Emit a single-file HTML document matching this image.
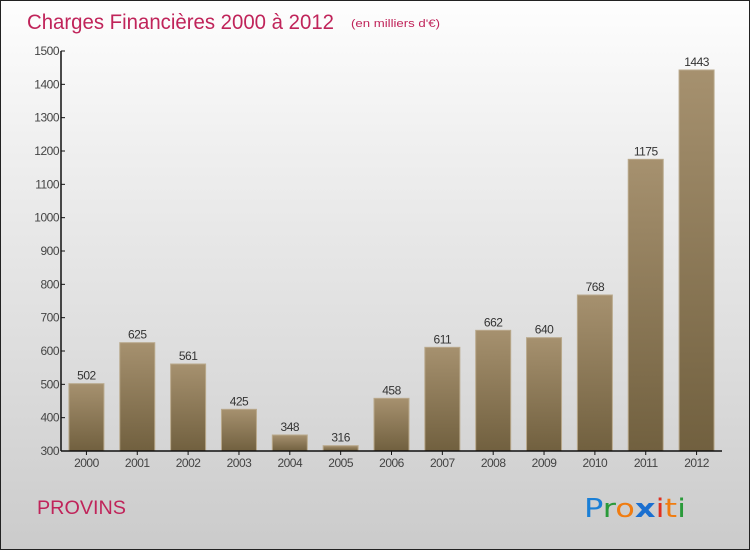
<!DOCTYPE html>
<html><head><meta charset="utf-8"><style>
body{margin:0;width:750px;height:550px;overflow:hidden}
#c{position:relative;width:748px;height:548px;border:1px solid #222;background:linear-gradient(#fefefe,#f0f0f0 25%,#d8d8d8 75%,#cbcbcb);font-family:"Liberation Sans","DejaVu Sans",sans-serif}
</style></head><body>
<div id="c">
<svg width="748" height="548">
<defs><linearGradient id="g" x1="0" y1="0" x2="0" y2="1"><stop offset="0" stop-color="#a6916f"/><stop offset="1" stop-color="#71603f"/></linearGradient></defs>
<text x="26" y="28" font-size="21" fill="#c0245a" textLength="307" lengthAdjust="spacingAndGlyphs">Charges Financières 2000 à 2012</text>
<text x="350" y="26" font-size="11" fill="#c0245a" textLength="89" lengthAdjust="spacingAndGlyphs">(en milliers d'€)</text>
<g id="plot"></g>
<text x="36" y="513" font-size="19" fill="#c0245a" textLength="89" lengthAdjust="spacingAndGlyphs">PROVINS</text>
<g font-size="26" font-family="DejaVu Sans,sans-serif">
<text x="583" y="516" textLength="102" lengthAdjust="spacingAndGlyphs"><tspan fill="#1a7fd6">P</tspan><tspan fill="#2a9a3a">r</tspan><tspan fill="#f07c10">o</tspan><tspan fill="#1a6fd0" font-weight="bold">x</tspan><tspan fill="#e03020">i</tspan><tspan fill="#f07c10">t</tspan><tspan fill="#2a9a3a">i</tspan></text></g>
</svg></div>
<script>
const years=["2000","2001","2002","2003","2004","2005","2006","2007","2008","2009","2010","2011","2012"];
const values=[502,625,561,425,348,316,458,611,662,640,768,1175,1443];
const ticks=[300,400,500,600,700,800,900,1000,1100,1200,1300,1400,1500];
const NS="http://www.w3.org/2000/svg",g=document.getElementById('plot');
const x0=60,x1=721,yMin=300,yMax=1500,yTop=50,yBot=450;
const y=v=>yBot-(v-yMin)/(yMax-yMin)*(yBot-yTop);
const bw=(x1-x0)/years.length;
function mk(t,a,txt){const e=document.createElementNS(NS,t);for(const k in a)e.setAttribute(k,a[k]);if(txt!=null)e.textContent=txt;g.appendChild(e);return e;}
ticks.forEach(t=>{
let l=mk('line',{x1:x0,x2:x0+4,y1:y(t),y2:y(t),stroke:'#111'});


let tx=mk('text',{x:x0-2,y:y(t)+4,'font-size':12,'text-anchor':'end',fill:'#444','letter-spacing':'-0.5'},t);


});
years.forEach((yr,i)=>{
const cx=x0+bw*(i+0.5),v=values[i],w=35;
let r=mk('rect',{x:cx-w/2,y:y(v),width:w,height:yBot-y(v),fill:'url(#g)',stroke:'#b9a98c','stroke-width':1});


let lb=mk('text',{x:cx,y:y(v)-4,'font-size':12,'text-anchor':'middle',fill:'#333','letter-spacing':'-0.5'},v);


let tk=mk('line',{x1:cx,x2:cx,y1:yBot,y2:yBot+4,stroke:'#111'});


let xl=mk('text',{x:cx,y:yBot+16,'font-size':12,'text-anchor':'middle',fill:'#444','letter-spacing':'-0.5'},yr);


});
let ya=mk('line',{x1:x0,x2:x0,y1:yTop,y2:yBot,stroke:'#111','stroke-width':1.5});


let xa=mk('line',{x1:x0,x2:x1,y1:yBot,y2:yBot,stroke:'#111','stroke-width':1.5});


</script>
</body></html>
